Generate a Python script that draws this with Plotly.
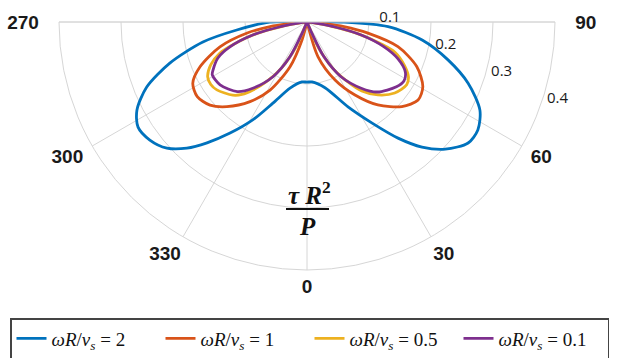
import plotly.graph_objects as go

# ---- data (theta in degrees, 0 = bottom, 90 = right, 270 = left) ----
theta_blue = [270, 270.3, 276.5, 280.9, 286.7, 292.1, 297.4, 301.9, 306.9, 312.0, 316.4, 320.4,
              325.3, 331.1, 337.2, 345.6, 355.2, 0, 4.8, 15.3, 25.8, 32.8, 38.1, 42.6, 47.4, 53.1,
              57.7, 63.0, 69.2, 74.9, 81.1, 86.7, 89.7, 90]
r_blue = [0, 0.060, 0.114, 0.171, 0.231, 0.279, 0.309, 0.321, 0.317, 0.304, 0.281, 0.253,
          0.218, 0.180, 0.142, 0.110, 0.097, 0.097, 0.097, 0.110, 0.152, 0.194, 0.238, 0.274, 0.303, 0.325,
          0.326, 0.313, 0.278, 0.236, 0.188, 0.131, 0.060, 0]

theta_orange = [274, 275.7, 277.2, 280.4, 285.9, 292.7, 298.2, 304.2, 310.6, 316.6, 324.4, 331.5,
                339.2, 344.5, 348, 12, 17.6, 25.8, 33.3, 40.5, 48.3, 54.9, 60.8, 67.9, 74.8,
                79.6, 82.8, 84.3, 86]
r_orange = [0, 0.032, 0.060, 0.098, 0.146, 0.187, 0.209, 0.214, 0.206, 0.188, 0.158, 0.125,
            0.077, 0.030, 0, 0, 0.059, 0.104, 0.141, 0.176, 0.205, 0.219, 0.214, 0.191, 0.152,
            0.100, 0.060, 0.032, 0]

theta_yellow = [277, 280, 283, 287, 289.6, 294, 298.9, 303, 307, 314.6, 318.1, 321.5, 326, 331,
                336, 341, 19, 24, 29, 34, 38.5, 44.2, 51, 57.8, 61.6, 66, 71, 73.5, 77, 80, 83]
r_yellow = [0, 0.040, 0.085, 0.125, 0.149, 0.170, 0.183, 0.185, 0.182, 0.168, 0.157, 0.140, 0.115,
            0.085, 0.045, 0, 0, 0.045, 0.085, 0.115, 0.142, 0.164, 0.182, 0.190, 0.186, 0.172,
            0.150, 0.125, 0.085, 0.040, 0]

theta_purple = [278, 280, 283.5, 287.8, 292, 297, 299.2, 305.9, 314.9, 320.7, 328.1, 333.9, 336.5,
                338, 22, 23.5, 26, 31.9, 39.3, 45.1, 54.1, 58.7, 63, 68, 72.2, 76.5, 80, 82]
r_purple = [0, 0.044, 0.090, 0.130, 0.155, 0.170, 0.175, 0.173, 0.159, 0.138, 0.104, 0.062, 0.020,
            0, 0, 0.020, 0.062, 0.104, 0.138, 0.160, 0.178, 0.183, 0.178, 0.158, 0.130, 0.090, 0.044, 0]

series_names = [
    "<i>ωR</i>/<i>v</i><sub><i>s</i></sub> = 2",
    "<i>ωR</i>/<i>v</i><sub><i>s</i></sub> = 1",
    "<i>ωR</i>/<i>v</i><sub><i>s</i></sub> = 0.5",
    "<i>ωR</i>/<i>v</i><sub><i>s</i></sub> = 0.1",
]
series_colors = ["#0072BD", "#D95319", "#EDB120", "#7E2F8E"]

NB = "\u00a0"
# angular ticks expressed in the axis' own range (270 .. 450), labelled in degrees
angle_ticks = [270, 300, 330, 360, 390, 420, 450]
angle_labels = ["270" + NB * 3, "300" + NB, "330", "0", "30", NB + "60", NB * 3 + "90"]
radial_ticks = [0.1, 0.2, 0.3, 0.4]
radial_labels = ["0.1", "0.2", "0.3", "0.4"]

# ---- figure ----
fig = go.Figure()
all_theta = [theta_blue, theta_orange, theta_yellow, theta_purple]
all_r = [r_blue, r_orange, r_yellow, r_purple]
for th, rr, nm, col in zip(all_theta, all_r, series_names, series_colors):
    fig.add_trace(go.Scatterpolar(theta=th, r=rr, mode="lines", name=nm,
                                  line=dict(color=col, width=2.8, shape="spline", smoothing=0.8)))

grid = "#d6d6d6"
W, H = 630, 358
ML, MR, MT, MB = 8, 8, 22, 88
pw = W - ML - MR
cx, R = 307, 248
fig.update_layout(
    width=W, height=H,
    margin=dict(l=ML, r=MR, t=MT, b=MB, autoexpand=False),
    paper_bgcolor="white",
    plot_bgcolor="white",
    polar=dict(
        bgcolor="white",
        sector=[180, 360],
        domain=dict(x=[(cx - R - ML) / pw, (cx + R - ML) / pw], y=[0, 1]),
        angularaxis=dict(
            rotation=270, direction="counterclockwise",
            tickmode="array", tickvals=angle_ticks, ticktext=angle_labels,
            tickfont=dict(family="Liberation Sans", size=19, color="#1a1a1a", weight="bold"),
            showgrid=True, gridcolor=grid, gridwidth=1,
            showline=True, linecolor=grid, linewidth=1,
            ticks="",
        ),
        radialaxis=dict(
            range=[0, 0.4], angle=334.3, side="counterclockwise",
            tickmode="array", tickvals=radial_ticks, ticktext=radial_labels,
            tickfont=dict(family="Open Sans", size=15, color="#1a1a1a"),
            showgrid=True, gridcolor=grid, gridwidth=1,
            showline=False, ticks="outside", ticklen=24, tickcolor="rgba(0,0,0,0)",
            tickangle=-25.7,
        ),
    ),
    showlegend=True,
    legend=dict(
        orientation="h", xref="container", yref="container",
        x=10 / W, y=1 - 318 / H, xanchor="left", yanchor="top",
        font=dict(family="Liberation Serif", size=19, color="#111111"),
        bordercolor="#444444", borderwidth=1.5, bgcolor="white",
        itemwidth=30, entrywidth=104, entrywidthmode="pixels",
    ),
)

def px_x(x):
    return (x - ML) / pw

def px_y(y):
    return 1 - (y - MT) / (H - MT - MB)

fig.add_annotation(text="<b><i>τ R</i></b><sup><b>2</b></sup>", x=px_x(309), y=px_y(193),
                   xref="paper", yref="paper", showarrow=False, yanchor="middle",
                   font=dict(family="Liberation Serif", size=25, color="#111111"))
fig.add_annotation(text="<b><i>P</i></b>", x=px_x(307), y=px_y(226),
                   xref="paper", yref="paper", showarrow=False, yanchor="middle",
                   font=dict(family="Liberation Serif", size=25, color="#111111"))
fig.add_shape(type="line", xref="paper", yref="paper", x0=px_x(286), x1=px_x(329),
              y0=px_y(209), y1=px_y(209), line=dict(color="#111111", width=2))

fig.write_html("out.html", config={"displayModeBar": False},
               post_script="document.body.style.margin='0';document.body.style.padding='0';")
